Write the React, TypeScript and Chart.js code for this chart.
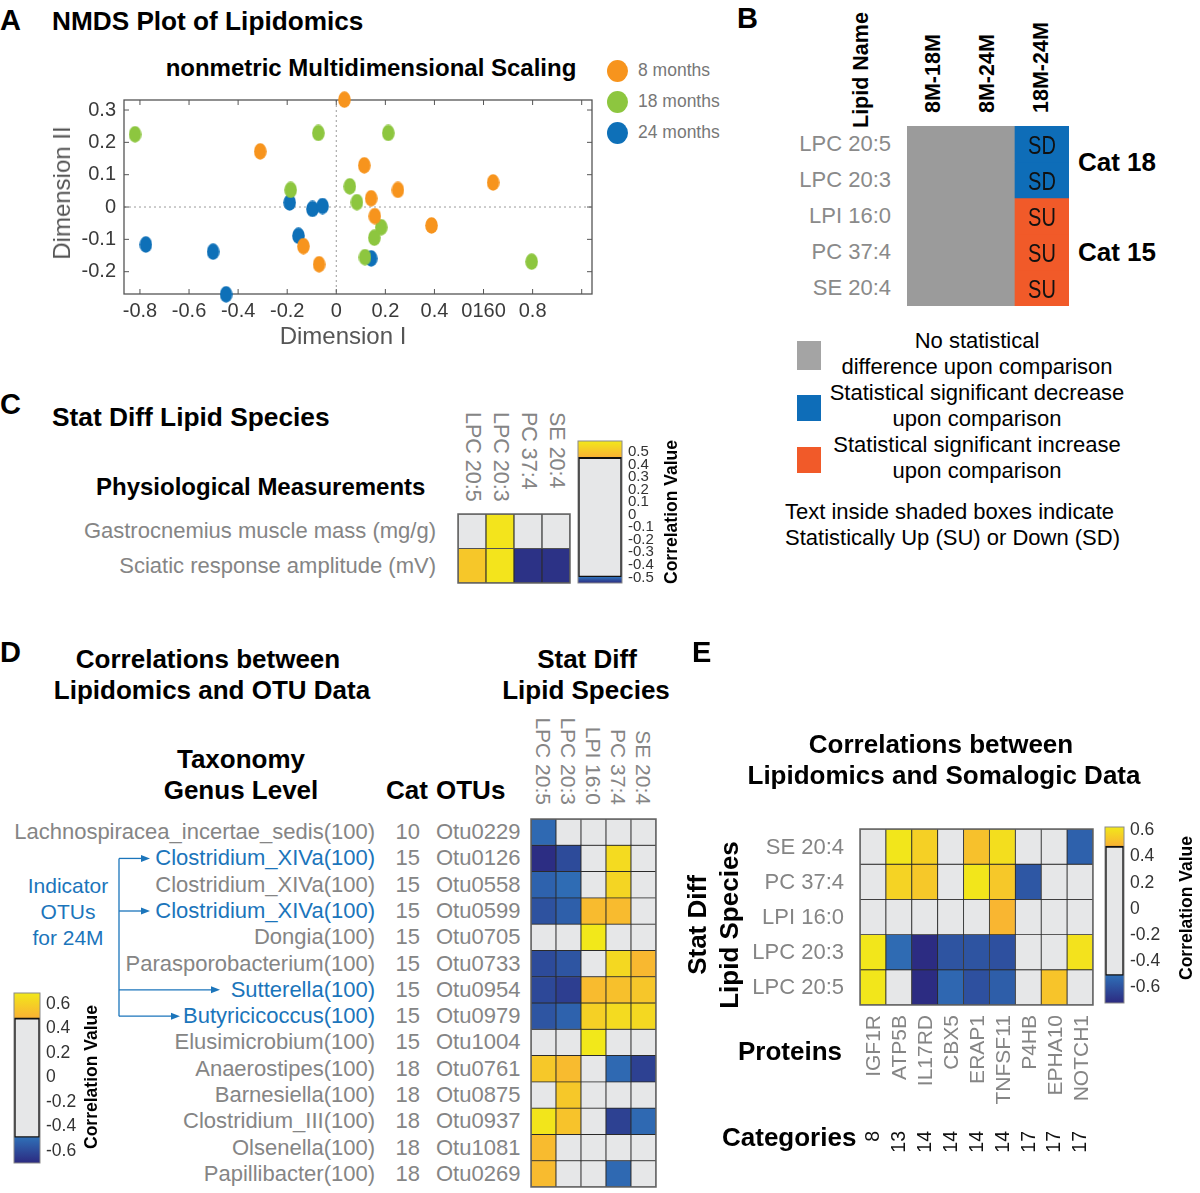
import React, { useEffect, useRef } from "react";
import { Chart, registerables } from "chart.js";

Chart.register(...registerables);

const FONT = '"Liberation Sans", Arial, Helvetica, sans-serif';
Chart.defaults.font.family = FONT;

// ---------------- Panel A : NMDS ----------------
const NMDS_GROUPS = ["8 months", "18 months", "24 months"];
const NMDS_8M_X = [0.033, -0.31, 0.114, 0.251, 0.142, 0.157, 0.388, 0.639, -0.134, -0.07];
const NMDS_8M_Y = [0.332, 0.172, 0.129, 0.053, 0.027, -0.028, -0.057, 0.076, -0.121, -0.177];
const NMDS_18M_X = [-0.82, -0.073, 0.212, -0.186, 0.055, 0.084, 0.183, 0.155, 0.117, 0.796];
const NMDS_18M_Y = [0.225, 0.229, 0.229, 0.053, 0.064, 0.015, -0.0625, -0.095, -0.155, -0.169];
const NMDS_24M_X = [-0.19, -0.097, -0.056, -0.154, -0.776, -0.502, -0.449, 0.142];
const NMDS_24M_Y = [0.014, -0.006, 0.003, -0.089, -0.116, -0.138, -0.27, -0.159];
const NMDS_X_TICKS = [-0.8, -0.6, -0.4, -0.2, 0, 0.2, 0.4, 0.6, 0.8, 1.0];
const NMDS_X_TICK_LABELS = ["-0.8", "-0.6", "-0.4", "-0.2", "0", "0.2", "0.4", "0160", "0.8", ""];
const NMDS_Y_TICKS = [-0.2, -0.1, 0, 0.1, 0.2, 0.3];
const NMDS_Y_TICK_LABELS = ["-0.2", "-0.1", "0", "0.1", "0.2", "0.3"];

// ---------------- Panel B : status table ----------------
const B_LIPIDS = ["LPC 20:5", "LPC 20:3", "LPI 16:0", "PC 37:4", "SE 20:4"];
const B_COMPARISONS = ["8M-18M", "8M-24M", "18M-24M"];
const B_STATUS = [
  ["NS", "NS", "SD"],
  ["NS", "NS", "SD"],
  ["NS", "NS", "SU"],
  ["NS", "NS", "SU"],
  ["NS", "NS", "SU"],
];
const B_CAT_LABELS = ["Cat 18", "Cat 15"];
const B_CAT_ROWS = [[0, 1], [2, 4]];
const B_LEGEND_TEXT = [
  ["No statistical", "difference upon comparison"],
  ["Statistical significant decrease", "upon comparison"],
  ["Statistical significant increase", "upon comparison"],
];

// ---------------- Panel C ----------------
const C_MEASURES = ["Gastrocnemius muscle mass (mg/g)", "Sciatic response amplitude (mV)"];
const C_LIPIDS = ["LPC 20:5", "LPC 20:3", "PC 37:4", "SE 20:4"];
const C_CORR = [
  [0, 0.58, 0, 0],
  [0.51, 0.58, -0.54, -0.54],
];
const C_CB_TICKS = [0.5, 0.4, 0.3, 0.2, 0.1, 0, -0.1, -0.2, -0.3, -0.4, -0.5];
const C_CB_TICK_LABELS = ["0.5", "0.4", "0.3", "0.2", "0.1", "0", "-0.1", "-0.2", "-0.3", "-0.4", "-0.5"];

// ---------------- Panel D ----------------
const D_TAXA = [
  "Lachnospiracea_incertae_sedis(100)",
  "Clostridium_XIVa(100)",
  "Clostridium_XIVa(100)",
  "Clostridium_XIVa(100)",
  "Dongia(100)",
  "Parasporobacterium(100)",
  "Sutterella(100)",
  "Butyricicoccus(100)",
  "Elusimicrobium(100)",
  "Anaerostipes(100)",
  "Barnesiella(100)",
  "Clostridium_III(100)",
  "Olsenella(100)",
  "Papillibacter(100)",
];
const D_CATS = ["10", "15", "15", "15", "15", "15", "15", "15", "15", "18", "18", "18", "18", "18"];
const D_OTUS = ["Otu0229", "Otu0126", "Otu0558", "Otu0599", "Otu0705", "Otu0733", "Otu0954", "Otu0979", "Otu1004", "Otu0761", "Otu0875", "Otu0937", "Otu1081", "Otu0269"];
const D_INDICATOR_ROWS = [1, 3, 6, 7];
const D_LIPIDS = ["LPC 20:5", "LPC 20:3", "LPI 16:0", "PC 37:4", "SE 20:4"];
const D_CORR = [
  [-0.51, 0, 0, 0, 0],
  [-0.69, -0.6, 0, 0.64, 0],
  [-0.53, -0.5, 0, 0.62, 0],
  [-0.58, -0.54, 0.52, 0.52, 0],
  [0, 0, 0.69, 0, 0],
  [-0.6, -0.57, 0, 0.63, 0.51],
  [-0.61, -0.64, 0.52, 0.54, 0.56],
  [-0.57, -0.53, 0.6, 0.64, 0.63],
  [0, 0, 0.69, 0, 0],
  [0.57, 0.52, 0, -0.51, -0.63],
  [0, 0.57, 0, 0, 0],
  [0.68, 0.55, 0, -0.63, -0.51],
  [0.52, 0, 0, 0, 0],
  [0.52, 0, 0, -0.51, 0],
];
const D_CB_TICKS = [0.6, 0.4, 0.2, 0, -0.2, -0.4, -0.6];
const D_CB_TICK_LABELS = ["0.6", "0.4", "0.2", "0", "-0.2", "-0.4", "-0.6"];

// ---------------- Panel E ----------------
const E_LIPIDS = ["SE 20:4", "PC 37:4", "LPI 16:0", "LPC 20:3", "LPC 20:5"];
const E_PROTEINS = ["IGF1R", "ATP5B", "IL17RD", "CBX5", "ERAP1", "TNFSF11", "P4HB", "EPHA10", "NOTCH1"];
const E_CATEGORIES = ["8", "13", "14", "14", "14", "14", "17", "17", "17"];
const E_CORR = [
  [0, 0.62, 0.56, 0, 0.52, 0.6, 0, 0, -0.55],
  [0, 0.57, 0.54, 0, 0.62, 0.54, -0.58, 0, 0],
  [0, 0, 0, 0, 0, 0.49, 0, 0, 0],
  [0.62, -0.52, -0.71, -0.59, -0.59, -0.6, 0, 0, 0.61],
  [0.62, 0, -0.71, -0.53, -0.6, -0.56, 0, 0.53, 0],
];
const E_CB_TICKS = [0.6, 0.4, 0.2, 0, -0.2, -0.4, -0.6];
const E_CB_TICK_LABELS = ["0.6", "0.4", "0.2", "0", "-0.2", "-0.4", "-0.6"];

// ---------------- styles / layout ----------------
const NMDS_COLORS = ["#f7941d", "#8dc63f", "#0e70b8"];
const STATUS_COLORS: Record<string, string> = { NS: "#9b9b9b", SD: "#0e6db8", SU: "#f15a29" };
const LEGEND_SWATCH = ["#a4a4a4", "#0e6db8", "#f15a29"];
const CELL_GRAY = "#e6e7e8";
const GOLD = "#f9b233";
const YELLOW = "#f2e81a";
const BLUE = "#2f6eb6";
const NAVY = "#2c2a80";
const LABEL_GRAY = "#858585";
const IND_BLUE = "#1b75bb";

const CB_C = { min: -0.545, max: 0.59, negThr: -0.5, posThr: 0.46 };
const CB_D = { min: -0.7, max: 0.69, negThr: -0.494, posThr: 0.486 };
const CB_E = { min: -0.717, max: 0.626, negThr: -0.51, posThr: 0.48 };

const GB = { x: 907, y: 126, w: 162, h: 180 };
const GC = { x: 458, y: 514, w: 112, h: 69 };
const GD = { x: 531, y: 819, w: 125, h: 368 };
const GE = { x: 860, y: 829, w: 233, h: 176 };

type G = { x: number; y: number; w: number; h: number };
const colC = (g: G, n: number, j: number) => g.x + ((j + 0.5) * g.w) / n;
const rowC = (g: G, n: number, i: number) => g.y + ((i + 0.5) * g.h) / n;

function hexToRgb(h: string) {
  const n = parseInt(h.slice(1), 16);
  return [(n >> 16) & 255, (n >> 8) & 255, n & 255];
}
function mix(a: string, b: string, t: number) {
  const A = hexToRgb(a);
  const B = hexToRgb(b);
  const tt = Math.max(0, Math.min(1, t));
  return `rgb(${A.map((v, i) => Math.round(v + (B[i] - v) * tt)).join(",")})`;
}
function corrColor(v: number, cb: typeof CB_C) {
  if (v >= cb.posThr) return mix(GOLD, YELLOW, (v - cb.posThr) / (cb.max - cb.posThr));
  if (v <= cb.negThr) return mix(BLUE, NAVY, (cb.negThr - v) / (cb.negThr - cb.min));
  return CELL_GRAY;
}

function framePlugin(color: string, width: number) {
  return {
    id: "frame",
    afterDatasetsDraw(chart: any) {
      const { ctx, chartArea: a } = chart;
      ctx.save();
      ctx.strokeStyle = color;
      ctx.lineWidth = width;
      ctx.strokeRect(a.left, a.top, a.right - a.left, a.bottom - a.top);
      ctx.restore();
    },
  };
}

const nmdsFramePlugin = {
  id: "nmdsFrame",
  beforeDatasetsDraw(chart: any) {
    const { ctx, chartArea: a, scales } = chart;
    const xs = scales.x;
    const ys = scales.y;
    ctx.save();
    ctx.strokeStyle = "#9a9a9a";
    ctx.lineWidth = 1;
    ctx.setLineDash([2, 3]);
    const x0 = xs.getPixelForValue(0);
    const y0 = ys.getPixelForValue(0);
    ctx.beginPath();
    ctx.moveTo(x0, a.top);
    ctx.lineTo(x0, a.bottom);
    ctx.moveTo(a.left, y0);
    ctx.lineTo(a.right, y0);
    ctx.stroke();
    ctx.setLineDash([]);
    ctx.strokeStyle = "#555";
    ctx.lineWidth = 1.3;
    ctx.strokeRect(a.left, a.top, a.right - a.left, a.bottom - a.top);
    ctx.lineWidth = 1;
    ctx.beginPath();
    for (const v of NMDS_X_TICKS) {
      const px = xs.getPixelForValue(v);
      ctx.moveTo(px, a.bottom);
      ctx.lineTo(px, a.bottom - 5);
      ctx.moveTo(px, a.top);
      ctx.lineTo(px, a.top + 5);
    }
    for (const v of NMDS_Y_TICKS) {
      const py = ys.getPixelForValue(v);
      ctx.moveTo(a.left, py);
      ctx.lineTo(a.left + 5, py);
      ctx.moveTo(a.right, py);
      ctx.lineTo(a.right - 5, py);
    }
    ctx.stroke();
    ctx.restore();
  },
};

function ellipseImage(color: string) {
  const c = document.createElement("canvas");
  c.width = 13;
  c.height = 17;
  const g = c.getContext("2d")!;
  g.fillStyle = color;
  g.beginPath();
  g.ellipse(6.5, 8.5, 6.3, 8.2, 0, 0, Math.PI * 2);
  g.fill();
  return c;
}

function scatterConfig(): any {
  const groups = [
    [NMDS_8M_X, NMDS_8M_Y],
    [NMDS_18M_X, NMDS_18M_Y],
    [NMDS_24M_X, NMDS_24M_Y],
  ];
  return {
    type: "scatter",
    data: {
      datasets: groups.map(([xs, ys], k) => ({
        label: NMDS_GROUPS[k],
        data: xs.map((x, i) => ({ x, y: ys[i] })),
        pointStyle: ellipseImage(NMDS_COLORS[k]),
        pointRadius: 7,
        backgroundColor: NMDS_COLORS[k],
        clip: false,
      })),
    },
    options: {
      responsive: false,
      animation: false,
      events: [],
      layout: { padding: { top: 12, right: 4, left: 0, bottom: 0 } },
      plugins: { legend: { display: false }, tooltip: { enabled: false } },
      scales: {
        x: {
          type: "linear",
          min: -0.865,
          max: 1.042,
          afterBuildTicks: (s: any) => {
            s.ticks = NMDS_X_TICKS.map((v) => ({ value: v }));
          },
          afterFit: (s: any) => {
            s.height = 56;
            s.paddingLeft = 0;
            s.paddingRight = 0;
          },
          ticks: {
            autoSkip: false,
            maxRotation: 0,
            padding: 5,
            color: "#3a3a3a",
            font: { size: 20 },
            callback: (_v: any, i: number) => NMDS_X_TICK_LABELS[i],
          },
          grid: { display: false, drawTicks: false },
          border: { display: false },
        },
        y: {
          type: "linear",
          min: -0.269,
          max: 0.331,
          afterBuildTicks: (s: any) => {
            s.ticks = NMDS_Y_TICKS.map((v) => ({ value: v }));
          },
          afterFit: (s: any) => {
            s.width = 104;
            s.paddingTop = 0;
            s.paddingBottom = 0;
          },
          ticks: {
            autoSkip: false,
            padding: 8,
            color: "#3a3a3a",
            font: { size: 20 },
            callback: (_v: any, i: number) => NMDS_Y_TICK_LABELS[i],
          },
          grid: { display: false, drawTicks: false },
          border: { display: false },
        },
      },
    },
    plugins: [nmdsFramePlugin],
  };
}

function heatmapConfig(rows: string[], cols: string[], colorOf: (i: number, j: number) => string, borderW: number, frame: string | null): any {
  const n = rows.length;
  return {
    type: "bar",
    data: {
      labels: cols,
      datasets: rows.map((r, i) => ({
        label: r,
        data: cols.map(() => [i, i + 1]),
        backgroundColor: cols.map((_c, j) => colorOf(i, j)),
        borderColor: "#2b2b2b",
        borderWidth: borderW,
        borderSkipped: false,
        barPercentage: 1,
        categoryPercentage: 1,
        grouped: false,
      })),
    },
    options: {
      responsive: false,
      animation: false,
      events: [],
      layout: { padding: 1 },
      plugins: { legend: { display: false }, tooltip: { enabled: false } },
      scales: {
        x: { display: false, offset: true },
        y: { display: false, min: 0, max: n, reverse: true },
      },
    },
    plugins: frame ? [framePlugin(frame, 1.5)] : [],
  };
}

function colorbarConfig(cb: typeof CB_C, ticks: number[], labels: string[], axisW: number, fontSize: number): any {
  const grad = (from: number, to: number, c0: string, c1: string) => (ctx: any) => {
    const chart = ctx.chart;
    if (!chart.chartArea) return c0;
    const ys = chart.scales.y;
    const g = chart.ctx.createLinearGradient(0, ys.getPixelForValue(from), 0, ys.getPixelForValue(to));
    g.addColorStop(0, c0);
    g.addColorStop(1, c1);
    return g;
  };
  const common = { barPercentage: 1, categoryPercentage: 1, grouped: false, borderSkipped: false };
  return {
    type: "bar",
    data: {
      labels: ["r"],
      datasets: [
        { data: [[cb.min, cb.negThr]], backgroundColor: grad(cb.negThr, cb.min, BLUE, NAVY), borderWidth: 0, ...common },
        { data: [[cb.negThr, cb.posThr]], backgroundColor: CELL_GRAY, borderColor: "#111", borderWidth: 2, ...common },
        { data: [[cb.posThr, cb.max]], backgroundColor: grad(cb.posThr, cb.max, GOLD, YELLOW), borderWidth: 0, ...common },
      ],
    },
    options: {
      responsive: false,
      animation: false,
      events: [],
      layout: { padding: { left: 2, top: 10, bottom: 10, right: 0 } },
      plugins: { legend: { display: false }, tooltip: { enabled: false } },
      scales: {
        x: { display: false, offset: true },
        y: {
          position: "right",
          min: cb.min,
          max: cb.max,
          afterBuildTicks: (s: any) => {
            s.ticks = ticks.map((v) => ({ value: v }));
          },
          afterFit: (s: any) => {
            s.width = axisW;
            s.paddingTop = 0;
            s.paddingBottom = 0;
          },
          grid: { display: false, drawTicks: false },
          border: { display: false },
          ticks: {
            autoSkip: false,
            padding: 6,
            color: "#333",
            font: { size: fontSize },
            callback: (_v: any, i: number) => labels[i],
          },
        },
      },
    },
    plugins: [framePlugin("#8a8a8a", 1)],
  };
}

function ChartBox({ x, y, w, h, make }: { x: number; y: number; w: number; h: number; make: () => any }) {
  const ref = useRef<HTMLCanvasElement>(null);
  useEffect(() => {
    if (!ref.current) return;
    const chart = new Chart(ref.current, make());
    return () => chart.destroy();
  }, []);
  return <canvas ref={ref} width={w} height={h} style={{ position: "absolute", left: x, top: y, width: w, height: h }} />;
}

type TP = { x: number; y: number; s: number; c?: string; b?: boolean; a?: "l" | "c" | "r"; r?: number; sx?: number; children: React.ReactNode };
function T({ x, y, s, c = "#000", b = false, a = "l", r = 0, sx = 1, children }: TP) {
  const ax = a === "l" ? "0" : a === "c" ? "-50%" : "-100%";
  return (
    <div
      style={{
        position: "absolute",
        left: 0,
        top: 0,
        transformOrigin: "0 0",
        transform: `translate(${x}px, ${y}px) rotate(${r}deg) scaleX(${sx}) translate(${ax}, -50%)`,
        font: `${b ? "bold " : ""}${s}px ${FONT}`,
        color: c,
        whiteSpace: "nowrap",
        lineHeight: 1,
      }}
    >
      {children}
    </div>
  );
}

const D_ARROW_TIPS: Record<number, number> = { 1: 150, 3: 150, 6: 220, 7: 180 };

export default function App() {
  const nB = B_LIPIDS.length;
  const nC = C_MEASURES.length;
  const nD = D_TAXA.length;
  const nE = E_LIPIDS.length;
  const arrowX = 119;
  const dRows = D_INDICATOR_ROWS.map((i) => rowC(GD, nD, i));
  return (
    <div style={{ position: "absolute", left: 0, top: 0, width: 1200, height: 1193, background: "#fff", overflow: "hidden", fontFamily: FONT }}>
      {/* charts */}
      <ChartBox x={20} y={88} w={580} h={262} make={scatterConfig} />
      <ChartBox
        x={GB.x - 1}
        y={GB.y - 1}
        w={GB.w + 2}
        h={GB.h + 2}
        make={() => heatmapConfig(B_LIPIDS, B_COMPARISONS, (i, j) => STATUS_COLORS[B_STATUS[i][j]], 0, null)}
      />
      <ChartBox
        x={GC.x - 1}
        y={GC.y - 1}
        w={GC.w + 2}
        h={GC.h + 2}
        make={() => heatmapConfig(C_MEASURES, C_LIPIDS, (i, j) => corrColor(C_CORR[i][j], CB_C), 0.9, "#666")}
      />
      <ChartBox
        x={GD.x - 1}
        y={GD.y - 1}
        w={GD.w + 2}
        h={GD.h + 2}
        make={() => heatmapConfig(D_OTUS, D_LIPIDS, (i, j) => corrColor(D_CORR[i][j], CB_D), 0.8, "#666")}
      />
      <ChartBox
        x={GE.x - 1}
        y={GE.y - 1}
        w={GE.w + 2}
        h={GE.h + 2}
        make={() => heatmapConfig(E_LIPIDS, E_PROTEINS, (i, j) => corrColor(E_CORR[i][j], CB_E), 0.8, "#666")}
      />
      <ChartBox x={576} y={431} w={86} h={162} make={() => colorbarConfig(CB_C, C_CB_TICKS, C_CB_TICK_LABELS, 40, 15)} />
      <ChartBox x={12} y={983} w={76} h={190} make={() => colorbarConfig(CB_D, D_CB_TICKS, D_CB_TICK_LABELS, 48, 17.5)} />
      <ChartBox x={1103} y={817} w={70} h={196} make={() => colorbarConfig(CB_E, E_CB_TICKS, E_CB_TICK_LABELS, 49, 17.5)} />

      {/* Panel A */}
      <T x={0} y={20} s={29} b>A</T>
      <T x={52} y={21} s={26.2} b>NMDS Plot of Lipidomics</T>
      <T x={371} y={68} s={24} b a="c">nonmetric Multidimensional Scaling</T>
      <T x={343} y={336} s={24} a="c" c="#555">Dimension I</T>
      <T x={62} y={193} s={24} a="c" r={-90} c="#555">Dimension II</T>
      {NMDS_GROUPS.map((g, k) => (
        <React.Fragment key={g}>
          <div style={{ position: "absolute", left: 607, top: 71 + k * 31 - 11, width: 21, height: 22, borderRadius: "50%", background: NMDS_COLORS[k] }} />
          <T x={638} y={71 + k * 31} s={17.5} c="#777">{g}</T>
        </React.Fragment>
      ))}

      {/* Panel B */}
      <T x={737} y={18} s={29} b>B</T>
      <T x={862} y={128} s={21.5} b r={-90}>Lipid Name</T>
      {B_COMPARISONS.map((c, j) => (
        <T key={c} x={colC(GB, B_COMPARISONS.length, j)} y={113} s={21.5} b r={-90}>{c}</T>
      ))}
      {B_LIPIDS.map((l, i) => (
        <T key={l} x={891} y={rowC(GB, nB, i)} s={22} a="r" c="#8a8a8a">{l}</T>
      ))}
      {B_STATUS.map((row, i) =>
        row.map((st, j) =>
          st === "NS" ? null : (
            <T key={`${i}-${j}`} x={colC(GB, B_COMPARISONS.length, j)} y={rowC(GB, nB, i) + 1} s={25} a="c" sx={0.8} c="#111">{st}</T>
          )
        )
      )}
      {B_CAT_LABELS.map((lab, k) => {
        const [r0, r1] = B_CAT_ROWS[k];
        const yc = (rowC(GB, nB, r0) + rowC(GB, nB, r1)) / 2;
        return <T key={lab} x={1078} y={yc} s={26} b>{lab}</T>;
      })}
      {B_LEGEND_TEXT.map((lines, k) => (
        <React.Fragment key={k}>
          <div style={{ position: "absolute", left: 797, top: [341, 395, 447][k], width: 24, height: [29, 26, 26][k], background: LEGEND_SWATCH[k] }} />
          <T x={977} y={341 + k * 52} s={22} a="c">{lines[0]}</T>
          <T x={977} y={367 + k * 52} s={22} a="c">{lines[1]}</T>
        </React.Fragment>
      ))}
      <T x={785} y={512} s={22}>Text inside shaded boxes indicate</T>
      <T x={785} y={538} s={22}>Statistically Up (SU) or Down (SD)</T>

      {/* Panel C */}
      <T x={0} y={404} s={29} b>C</T>
      <T x={52} y={417} s={26.3} b>Stat Diff Lipid Species</T>
      <T x={96} y={487} s={24} b>Physiological Measurements</T>
      {C_MEASURES.map((m, i) => (
        <T key={m} x={436} y={rowC(GC, nC, i)} s={22} a="r" c={LABEL_GRAY}>{m}</T>
      ))}
      {C_LIPIDS.map((l, j) => (
        <T key={l} x={colC(GC, C_LIPIDS.length, j)} y={412} s={21.5} r={90} c={LABEL_GRAY}>{l}</T>
      ))}
      <T x={672} y={512} s={17.5} b a="c" r={-90}>Correlation Value</T>

      {/* Panel D */}
      <T x={0} y={652} s={29} b>D</T>
      <T x={208} y={659} s={26} b a="c">Correlations between</T>
      <T x={212} y={690} s={26} b a="c">Lipidomics and OTU Data</T>
      <T x={587} y={659} s={26} b a="c">Stat Diff</T>
      <T x={586} y={690} s={26} b a="c">Lipid Species</T>
      <T x={241} y={759} s={26} b a="c">Taxonomy</T>
      <T x={241} y={790} s={26} b a="c">Genus Level</T>
      <T x={386} y={790} s={26} b>Cat</T>
      <T x={436} y={790} s={26} b>OTUs</T>
      {D_TAXA.map((t, i) => (
        <React.Fragment key={i}>
          <T x={375} y={rowC(GD, nD, i)} s={22} a="r" c={D_INDICATOR_ROWS.includes(i) ? IND_BLUE : LABEL_GRAY}>{t}</T>
          <T x={420} y={rowC(GD, nD, i)} s={22} a="r" c={LABEL_GRAY}>{D_CATS[i]}</T>
          <T x={436} y={rowC(GD, nD, i)} s={22} c={LABEL_GRAY}>{D_OTUS[i]}</T>
        </React.Fragment>
      ))}
      {D_LIPIDS.map((l, j) => (
        <T key={l} x={colC(GD, D_LIPIDS.length, j)} y={805} s={21} a="r" r={90} c={LABEL_GRAY}>{l}</T>
      ))}
      <T x={68} y={885} s={21} a="c" c={IND_BLUE}>Indicator</T>
      <T x={68} y={911} s={21} a="c" c={IND_BLUE}>OTUs</T>
      <T x={68} y={937} s={21} a="c" c={IND_BLUE}>for 24M</T>
      <svg width={1200} height={1193} style={{ position: "absolute", left: 0, top: 0, pointerEvents: "none" }}>
        <line x1={arrowX} y1={dRows[0]} x2={arrowX} y2={dRows[dRows.length - 1]} stroke={IND_BLUE} strokeWidth={1.3} />
        {D_INDICATOR_ROWS.map((ri, k) => {
          const yy = dRows[k];
          const tip = D_ARROW_TIPS[ri];
          return (
            <g key={ri}>
              <line x1={arrowX} y1={yy} x2={tip - 6} y2={yy} stroke={IND_BLUE} strokeWidth={1.3} />
              <polygon points={`${tip},${yy} ${tip - 9},${yy - 3.5} ${tip - 9},${yy + 3.5}`} fill={IND_BLUE} />
            </g>
          );
        })}
      </svg>
      <T x={92} y={1077} s={17.5} b a="c" r={-90}>Correlation Value</T>

      {/* Panel E */}
      <T x={692} y={652} s={29} b>E</T>
      <T x={941} y={744} s={26} b a="c">Correlations between</T>
      <T x={944} y={775} s={26} b a="c">Lipidomics and Somalogic Data</T>
      <T x={697} y={925} s={26} b a="c" r={-90}>Stat Diff</T>
      <T x={729} y={925} s={26} b a="c" r={-90}>Lipid Species</T>
      {E_LIPIDS.map((l, i) => (
        <T key={l} x={844} y={rowC(GE, nE, i)} s={22} a="r" c={LABEL_GRAY}>{l}</T>
      ))}
      {E_PROTEINS.map((p, j) => (
        <T key={p} x={colC(GE, E_PROTEINS.length, j)} y={1015} s={21} a="r" r={-90} c={LABEL_GRAY}>{p}</T>
      ))}
      <T x={738} y={1051} s={26} b>Proteins</T>
      <T x={722} y={1137} s={26} b>Categories</T>
      {E_CATEGORIES.map((c, j) => (
        <T key={j} x={colC(GE, E_PROTEINS.length, j)} y={1131} s={19.5} a="r" r={-90} c="#111">{c}</T>
      ))}
      <T x={1187} y={908} s={17.5} b a="c" r={-90}>Correlation Value</T>
    </div>
  );
}
